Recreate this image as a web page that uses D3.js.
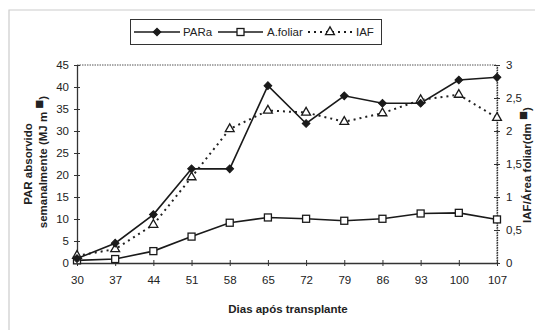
<!DOCTYPE html>
<html>
<head>
<meta charset="utf-8">
<script src="https://cdn.jsdelivr.net/npm/d3@7"></script>
<style>
  body { margin: 0; background: #fff; }
  text { font-family: "Liberation Sans", Arial, sans-serif; fill: #222; }
  .axis text { font-size: 11.5px; }
  .axis-label { font-size: 11.5px; font-weight: bold; }
</style>
</head>
<body>
<div id="chart"></div>
<script>
// data
var dias = [30, 37, 44, 51, 58, 65, 72, 79, 86, 93, 100, 107];
var para = [1.0, 4.5, 11.0, 21.4, 21.4, 40.3, 31.7, 38.0, 36.3, 36.3, 41.6, 42.2];
var afoliar = [0.04, 0.06, 0.18, 0.40, 0.61, 0.69, 0.67, 0.64, 0.67, 0.75, 0.76, 0.66];
var iaf = [0.11, 0.21, 0.58, 1.30, 2.03, 2.31, 2.28, 2.14, 2.27, 2.47, 2.55, 2.20];
var leftTicks = [0, 5, 10, 15, 20, 25, 30, 35, 40, 45];
var rightTicks = [0, 0.5, 1, 1.5, 2, 2.5, 3];

var W = 535, H = 333;
var plot = { left: 77, right: 497, top: 65, bottom: 263 };

var svg = d3.select("#chart").append("svg")
  .attr("width", W)
  .attr("height", H);

// faint outer frame of the scanned figure
svg.append("path")
  .attr("d", "M9,330 V10 H535")
  .attr("fill", "none")
  .attr("stroke", "#ccc")
  .attr("stroke-width", 1.2);

var x = d3.scaleLinear().domain([30, 107]).range([plot.left, plot.right]);
var yL = d3.scaleLinear().domain([0, 45]).range([plot.bottom, plot.top]);
var yR = d3.scaleLinear().domain([0, 3]).range([plot.bottom, plot.top]);

// plot area border (top and right dotted)
svg.append("path")
  .attr("d", "M" + plot.left + "," + plot.top + " H" + plot.right + " V" + plot.bottom)
  .attr("fill", "none")
  .attr("stroke", "#555")
  .attr("stroke-width", 1)
  .attr("stroke-dasharray", "1.5,1");

var fmt = function(d) { return String(d).replace(".", ","); };

function styleAxis(g) {
  g.select(".domain").attr("stroke", "#333").attr("stroke-width", 1.3);
  g.selectAll(".tick line").attr("stroke", "#333");
}

// cross ticks: outer part from the axis, inner part by moving x1/y1
var xAxis = d3.axisBottom(x).tickValues(dias).tickSize(3).tickPadding(10).tickSizeOuter(0);
var gx = svg.append("g")
  .attr("class", "x axis")
  .attr("transform", "translate(0," + plot.bottom + ")")
  .call(xAxis);
gx.selectAll(".tick line").attr("y1", -3);
styleAxis(gx);

var gl = svg.append("g")
  .attr("class", "y axis")
  .attr("transform", "translate(" + plot.left + ",0)")
  .call(d3.axisLeft(yL).tickValues(leftTicks).tickSize(3).tickPadding(5).tickSizeOuter(0));
gl.selectAll(".tick line").attr("x1", 3);
styleAxis(gl);

var gr = svg.append("g")
  .attr("class", "y2 axis")
  .attr("transform", "translate(" + plot.right + ",0)")
  .call(d3.axisRight(yR).tickValues(rightTicks).tickFormat(fmt).tickSize(3).tickPadding(6).tickSizeOuter(0));
gr.selectAll(".tick line").attr("x1", -3);
styleAxis(gr);
gr.select(".domain").attr("stroke-dasharray", "1.5,1");

// lines
var rows = dias.map(function(d, i) {
  return { dia: d, para: para[i], af: afoliar[i], iaf: iaf[i] };
});

var lineIaf = d3.line().x(d => x(d.dia)).y(d => yR(d.iaf));
var linePara = d3.line().x(d => x(d.dia)).y(d => yL(d.para));
var lineAf = d3.line().x(d => x(d.dia)).y(d => yR(d.af));

svg.append("path")
  .attr("d", lineIaf(rows))
  .attr("fill", "none")
  .attr("stroke", "#222")
  .attr("stroke-width", 2)
  .attr("stroke-dasharray", "2,4");

svg.append("path")
  .attr("d", lineAf(rows))
  .attr("fill", "none")
  .attr("stroke", "#1a1a1a")
  .attr("stroke-width", 1.6);

svg.append("path")
  .attr("d", linePara(rows))
  .attr("fill", "none")
  .attr("stroke", "#1a1a1a")
  .attr("stroke-width", 1.6);

var tri = d3.symbol().type(d3.symbolTriangle).size(34);
// diamond = square turned 45 degrees
var dia = d3.symbol().type(d3.symbolSquare).size(30);

svg.selectAll(".iaf")
  .data(rows)
  .enter()
  .append("path")
  .attr("class", "iaf")
  .attr("d", tri)
  .attr("transform", d => "translate(" + x(d.dia) + "," + yR(d.iaf) + ")")
  .attr("fill", "#fff")
  .attr("stroke", "#1a1a1a")
  .attr("stroke-width", 1.3);

svg.selectAll(".af")
  .data(rows)
  .enter()
  .append("rect")
  .attr("class", "af")
  .attr("x", d => x(d.dia) - 3.5)
  .attr("y", d => yR(d.af) - 3.5)
  .attr("width", 7)
  .attr("height", 7)
  .attr("fill", "#fff")
  .attr("stroke", "#1a1a1a")
  .attr("stroke-width", 1.3);

svg.selectAll(".para")
  .data(rows)
  .enter()
  .append("path")
  .attr("class", "para")
  .attr("d", dia)
  .attr("transform", d => "translate(" + x(d.dia) + "," + yL(d.para) + ") rotate(45)")
  .attr("fill", "#1a1a1a")
  .attr("stroke", "#1a1a1a")
  .attr("stroke-width", 1);

// axis labels
svg.append("text")
  .attr("class", "axis-label")
  .attr("text-anchor", "middle")
  .attr("transform", "translate(32,164) rotate(-90)")
  .text("PAR absorvido");

var l2 = svg.append("text")
  .attr("class", "axis-label")
  .attr("text-anchor", "middle")
  .attr("transform", "translate(47,162) rotate(-90)");
l2.append("tspan").text("semanalmente (MJ m ");
l2.append("tspan").attr("dy", -3).style("font-size", "15px").text("■");
l2.append("tspan").attr("dy", 3).text(")");

var r2 = svg.append("text")
  .attr("class", "axis-label")
  .attr("text-anchor", "middle")
  .attr("transform", "translate(531,165) rotate(-90)");
r2.append("tspan").text("IAF/Área foliar(dm ");
r2.append("tspan").attr("dy", -3).style("font-size", "15px").text("■");
r2.append("tspan").attr("dy", 3).text(")");

svg.append("text")
  .attr("class", "axis-label")
  .attr("text-anchor", "middle")
  .attr("x", 288)
  .attr("y", 313)
  .text("Dias após transplante");

// legend
var legend = svg.append("g");
legend.append("rect")
  .attr("x", 130.5).attr("y", 19.5)
  .attr("width", 251).attr("height", 25)
  .attr("fill", "#fff")
  .attr("stroke", "#333");

var ly = 32;
var items = [
  { x1: 134, x2: 180, tx: 183, label: "PARa", kind: "dia" },
  { x1: 218, x2: 263, tx: 267, label: "A.foliar", kind: "sq" },
  { x1: 308, x2: 352, tx: 356, label: "IAF", kind: "tri" }
];
items.forEach(function(it) {
  var cx = (it.x1 + it.x2) / 2;
  legend.append("line")
    .attr("x1", it.x1).attr("x2", it.x2)
    .attr("y1", ly).attr("y2", ly)
    .attr("stroke", "#1a1a1a")
    .attr("stroke-width", it.kind == "tri" ? 1.8 : 1.5)
    .attr("stroke-dasharray", it.kind == "tri" ? "2,4" : null);
  if (it.kind == "dia") {
    legend.append("path").attr("d", dia).attr("transform", "translate(" + cx + "," + ly + ") rotate(45)")
      .attr("fill", "#1a1a1a").attr("stroke", "#1a1a1a");
  } else if (it.kind == "sq") {
    legend.append("rect").attr("x", cx - 3.5).attr("y", ly - 3.5).attr("width", 7).attr("height", 7)
      .attr("fill", "#fff").attr("stroke", "#1a1a1a").attr("stroke-width", 1.3);
  } else {
    legend.append("path").attr("d", tri).attr("transform", "translate(" + cx + "," + ly + ")")
      .attr("fill", "#fff").attr("stroke", "#1a1a1a").attr("stroke-width", 1.3);
  }
  legend.append("text")
    .attr("x", it.tx).attr("y", ly + 4)
    .style("font-size", "11.5px")
    .text(it.label);
});
</script>
</body>
</html>
